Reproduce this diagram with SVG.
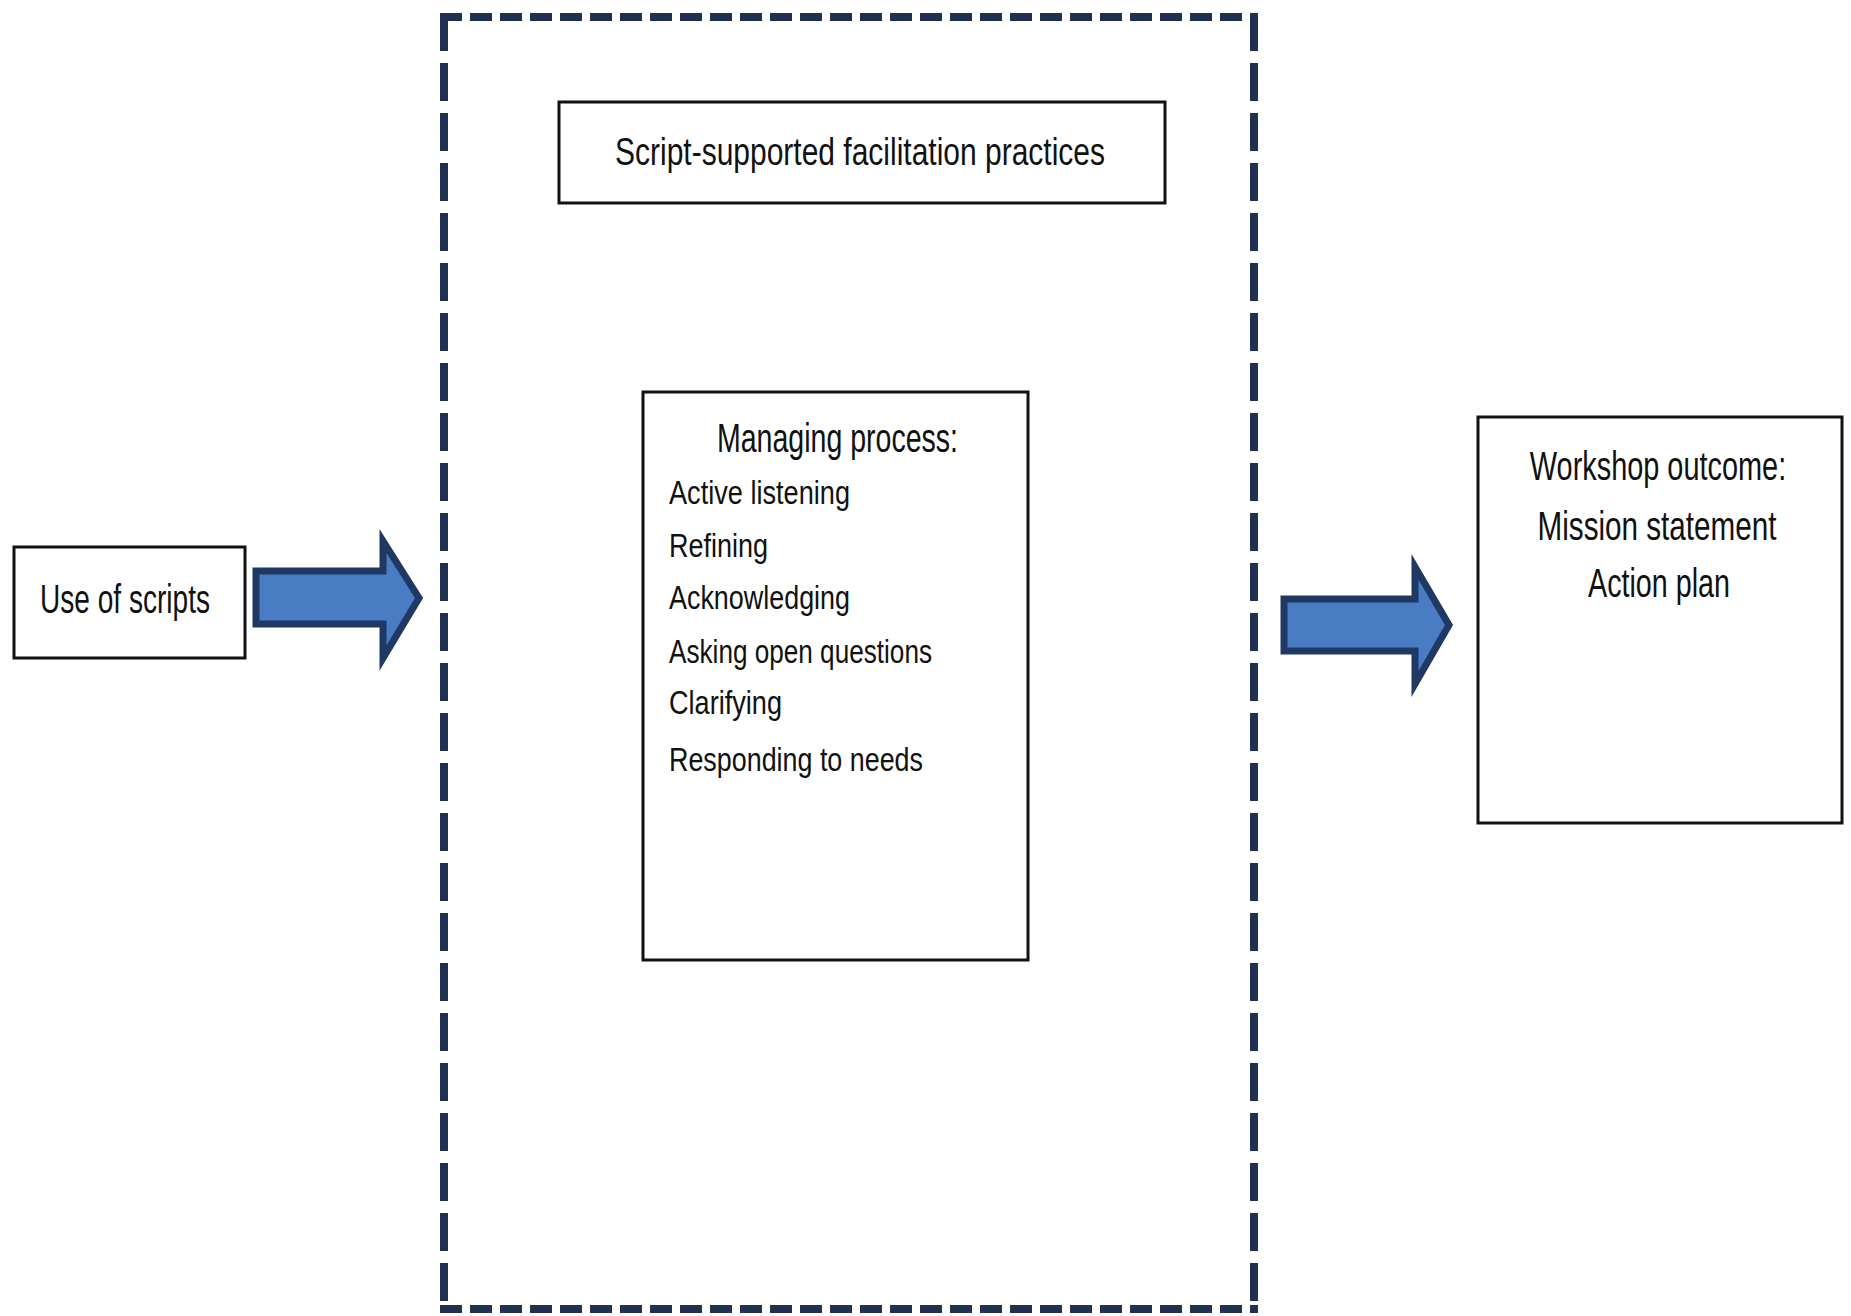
<svg xmlns="http://www.w3.org/2000/svg" width="1851" height="1316" viewBox="0 0 1851 1316">
<defs>
<style>
.box{fill:#fff;stroke:#111;stroke-width:3}
.dash{stroke:#1f3150;stroke-width:8;fill:none}
.arrow{fill:#4a7cc4;stroke:#1f3864;stroke-width:7;stroke-linejoin:miter}
text{font-family:"Liberation Sans","DejaVu Sans",sans-serif;fill:#111}
.c{text-anchor:middle}
</style>
</defs>
<rect width="1851" height="1316" fill="#fff"/>
<g id="container">
<line class="dash" x1="440" y1="17" x2="1258" y2="17" stroke-dasharray="22 8"/>
<line class="dash" x1="440" y1="1309" x2="1258" y2="1309" stroke-dasharray="22 8"/>
<line class="dash" x1="444" y1="13" x2="444" y2="1313" stroke-dasharray="38 12"/>
<line class="dash" x1="1254" y1="13" x2="1254" y2="1313" stroke-dasharray="38 12"/>
</g>
<g id="title">
<rect class="box" x="559" y="102" width="606" height="101"/>
<text x="615" y="165" font-size="38" textLength="490" lengthAdjust="spacingAndGlyphs">Script-supported  facilitation practices</text>
</g>
<g id="use-of-scripts">
<rect class="box" x="14" y="547" width="231" height="111"/>
<text x="40" y="613" font-size="40" textLength="170" lengthAdjust="spacingAndGlyphs">Use of scripts</text>
</g>
<g id="managing">
<rect class="box" x="643" y="392" width="385" height="568"/>
<text x="717" y="452" font-size="40" textLength="241" lengthAdjust="spacingAndGlyphs">Managing process:</text>
<text x="669" y="504" font-size="34" textLength="181" lengthAdjust="spacingAndGlyphs">Active listening</text>
<text x="669" y="557" font-size="34" textLength="99" lengthAdjust="spacingAndGlyphs">Refining</text>
<text x="669" y="609" font-size="34" textLength="181" lengthAdjust="spacingAndGlyphs">Acknowledging</text>
<text x="669" y="663" font-size="34" textLength="263" lengthAdjust="spacingAndGlyphs">Asking open questions</text>
<text x="669" y="714" font-size="34" textLength="113" lengthAdjust="spacingAndGlyphs">Clarifying</text>
<text x="669" y="771" font-size="34" textLength="254" lengthAdjust="spacingAndGlyphs">Responding to needs</text>
</g>
<g id="outcome">
<rect class="box" x="1478" y="417" width="364" height="406"/>
<text class="c" transform="translate(1658,480) scale(0.7225,1)" x="0" y="0" font-size="40">Workshop outcome:</text>
<text class="c" transform="translate(1657,540) scale(0.7415,1)" x="0" y="0" font-size="40">Mission statement</text>
<text class="c" transform="translate(1659,597) scale(0.7176,1)" x="0" y="0" font-size="40">Action plan</text>
</g>
<g id="connectors">
<polygon class="arrow" points="256,571 383,571 383,541 419,598 383,658 383,624 256,624"/>
<polygon class="arrow" points="1284,599 1415,599 1415,567 1449,625 1415,684 1415,651 1284,651"/>
</g>
</svg>
